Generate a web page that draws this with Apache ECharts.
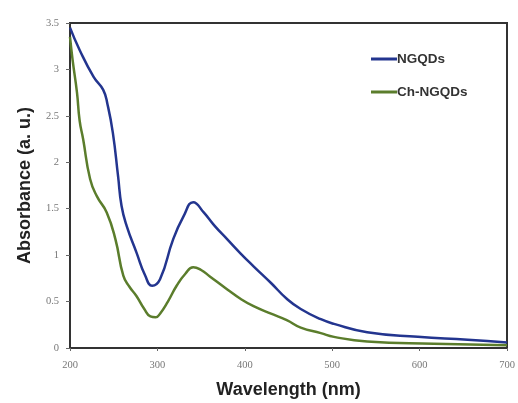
<!DOCTYPE html>
<html>
<head>
<meta charset="utf-8">
<script src="https://cdn.jsdelivr.net/npm/echarts@6/dist/echarts.min.js"></script>
<style>
  html, body { margin: 0; padding: 0; background: #fff; }
  #chart { width: 518px; height: 403px; }
</style>
</head>
<body>
<div id="chart"></div>
<script>
// wavelength (nm) / absorbance pairs
const ngqdsWl  = [200, 211, 227, 238, 243, 249, 255, 259, 265, 276, 286, 294, 303, 318, 330, 341, 353, 365, 380, 395, 410, 430, 448, 464, 487, 502, 540, 598, 655, 700]
const ngqdsAbs = [3.45, 3.21, 2.92, 2.78, 2.62, 2.32, 1.85, 1.53, 1.31, 1.03, 0.78, 0.67, 0.74, 1.17, 1.42, 1.57, 1.46, 1.32, 1.17, 1.02, 0.88, 0.70, 0.53, 0.42, 0.31, 0.26, 0.17, 0.12, 0.09, 0.06]

const chWl  = [200, 203, 208, 211, 215, 223, 231, 242, 252, 261, 268, 276, 285, 292, 298, 303, 312, 322, 332, 341, 350, 360, 380, 395, 410, 430, 448, 464, 487, 502, 540, 616, 700]
const chAbs = [3.35, 3.1, 2.75, 2.45, 2.25, 1.82, 1.63, 1.46, 1.17, 0.78, 0.66, 0.56, 0.42, 0.34, 0.33, 0.37, 0.5, 0.67, 0.8, 0.87, 0.84, 0.77, 0.63, 0.53, 0.45, 0.37, 0.30, 0.22, 0.16, 0.12, 0.07, 0.045, 0.03]

const seriesNames = ['NGQDs', 'Ch-NGQDs']
const yTicks = ['0', '0.5', '1', '1.5', '2', '2.5', '3', '3.5']

const chart = echarts.init(document.getElementById('chart'))

const zip = (xs, ys) => xs.map((x, i) => [x, ys[i]])

chart.setOption({
  animation: false,
  backgroundColor: '#fff',
  grid: {
    left: 70, right: 11, top: 23, bottom: 55,
    containLabel: false,
    outerBoundsMode: 'none',
    show: true,
    borderColor: '#333',
    borderWidth: 2
  },
  legend: {
    orient: 'vertical',
    left: 366,
    top: 47,
    itemGap: 19,
    itemWidth: 26,
    itemHeight: 3,
    icon: 'rect',
    textStyle: { fontFamily: 'Liberation Sans', fontWeight: 'bold', fontSize: 13.5, color: '#333', padding: [0, 0, 0, -5] },
    data: seriesNames
  },
  xAxis: {
    type: 'value',
    min: 200, max: 700, interval: 100,
    name: 'Wavelength (nm)',
    nameLocation: 'middle',
    nameGap: 33,
    nameTextStyle: { fontFamily: 'Liberation Sans', fontWeight: 'bold', fontSize: 18, color: '#222' },
    axisLine: { lineStyle: { color: '#333', width: 2 } },
    axisTick: { show: true, length: 3, lineStyle: { color: '#666' } },
    axisLabel: { fontFamily: 'Liberation Serif', fontSize: 10.5, color: '#777', margin: 12 },
    splitLine: { show: false }
  },
  yAxis: {
    type: 'value',
    min: 0, max: 3.5, interval: 0.5,
    name: 'Absorbance (a. u.)',
    nameLocation: 'middle',
    nameGap: 36,
    nameTextStyle: { fontFamily: 'Liberation Sans', fontWeight: 'bold', fontSize: 18, color: '#222' },
    axisLine: { show: true, lineStyle: { color: '#333', width: 2 } },
    axisTick: { show: true, length: 4, lineStyle: { color: '#666' } },
    axisLabel: {
      fontFamily: 'Liberation Serif', fontSize: 10.5, color: '#777', margin: 11,
      formatter: (v) => yTicks[Math.round(v / 0.5)]
    },
    splitLine: { show: false }
  },
  series: [
    {
      name: seriesNames[0],
      type: 'line',
      smooth: 0.5,
      showSymbol: false,
      lineStyle: { color: '#23358f', width: 2.5 },
      itemStyle: { color: '#23358f' },
      data: zip(ngqdsWl, ngqdsAbs)
    },
    {
      name: seriesNames[1],
      type: 'line',
      smooth: 0.5,
      showSymbol: false,
      lineStyle: { color: '#5b7d2c', width: 2.5 },
      itemStyle: { color: '#5b7d2c' },
      data: zip(chWl, chAbs)
    }
  ]
})
</script>
</body>
</html>
